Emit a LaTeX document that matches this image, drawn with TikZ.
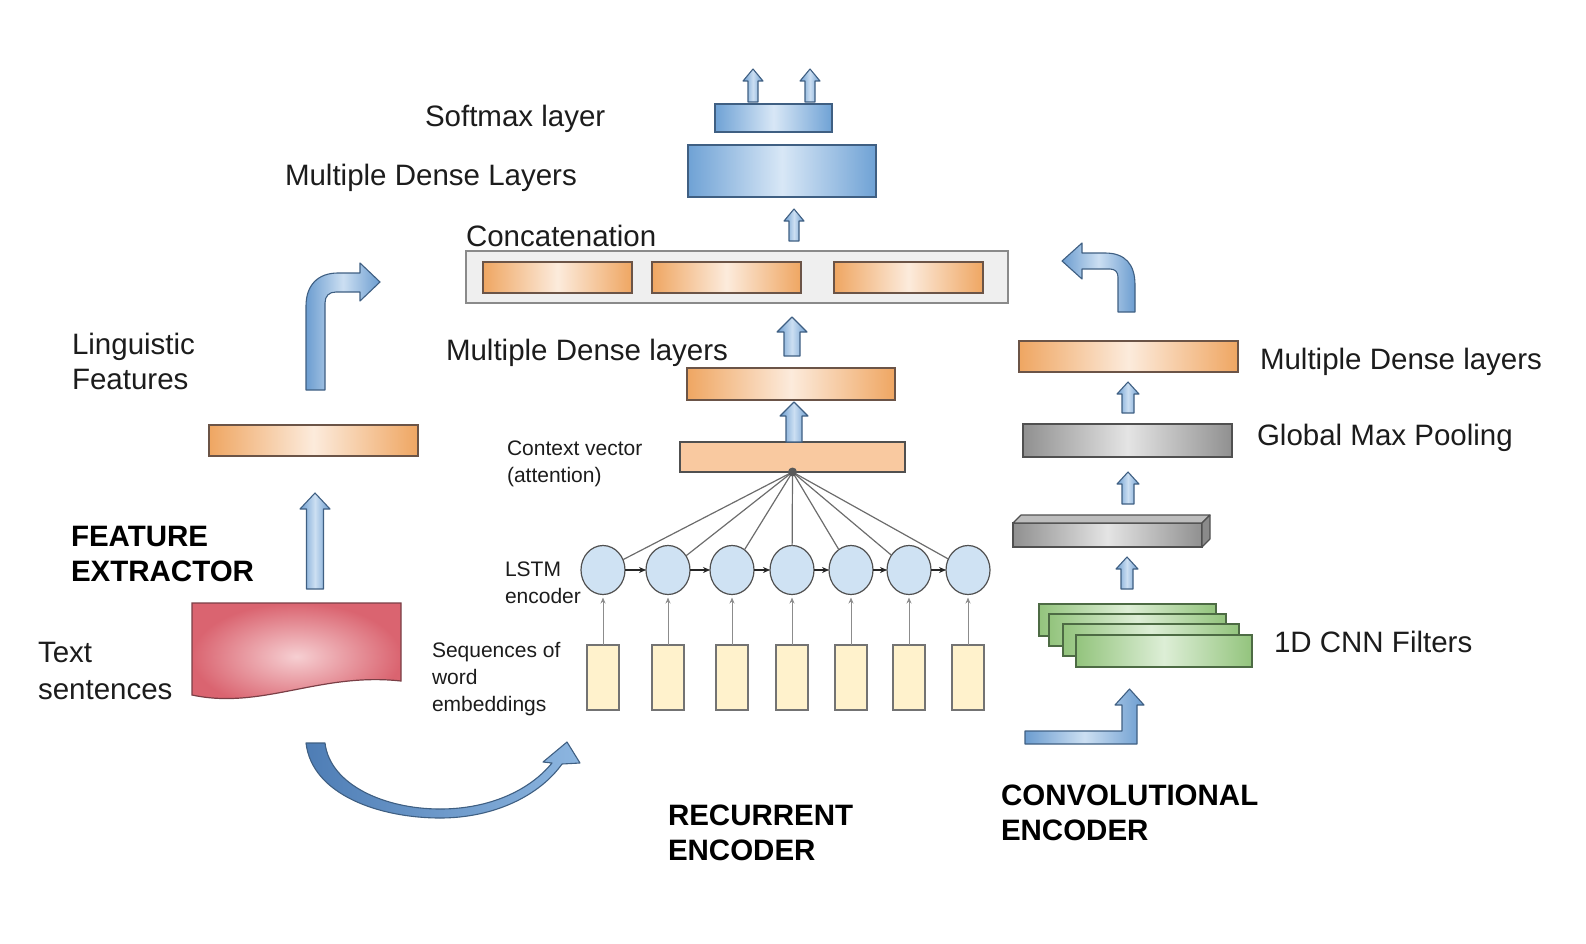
\documentclass[tikz,border=0pt]{standalone}
\usepackage{fontspec}
\setmainfont{Liberation Sans}
\usetikzlibrary{arrows.meta,shapes.geometric,calc}
\definecolor{bOut}{HTML}{6FA2D5}
\definecolor{bIn}{HTML}{D8E7F6}
\definecolor{bBd}{HTML}{3F5F82}
\definecolor{oOut}{HTML}{EFA662}
\definecolor{oIn}{HTML}{FCEBDC}
\definecolor{oBd}{HTML}{6B5447}
\definecolor{gOut}{HTML}{909090}
\definecolor{gIn}{HTML}{E4E4E4}
\definecolor{gBd}{HTML}{505050}
\definecolor{gTop}{HTML}{BDBDBD}
\definecolor{gSide}{HTML}{8A8A8A}
\definecolor{grOut}{HTML}{93C47D}
\definecolor{grIn}{HTML}{DDEED6}
\definecolor{grBd}{HTML}{4D6B44}
\definecolor{rOut}{HTML}{DA6470}
\definecolor{rIn}{HTML}{F6CFD2}
\definecolor{rBd}{HTML}{7A3F46}
\definecolor{aOut}{HTML}{6C9DD0}
\definecolor{aIn}{HTML}{CCDFF2}
\definecolor{aDark}{HTML}{4E7DB5}
\definecolor{aLight}{HTML}{8DB6E0}
\definecolor{ctxFill}{HTML}{F9C9A0}
\definecolor{lstmFill}{HTML}{CFE2F3}
\definecolor{embFill}{HTML}{FFF2CC}
\definecolor{txt}{HTML}{1C1C1C}
\definecolor{catFill}{HTML}{EFEFEF}
\definecolor{catBd}{HTML}{8A8A8A}

% block arrow pointing up: from, to, shaft half width, head half width, head length
\newcommand{\blockup}[5]{%
  \path[barrow] let \p1=(#1), \p2=(#2) in
   (\x1-#3pt,\y1) -- (\x1-#3pt,\y2-#5pt) -- (\x1-#4pt,\y2-#5pt) -- (\x1,\y2)
   -- (\x1+#4pt,\y2-#5pt) -- (\x1+#3pt,\y2-#5pt) -- (\x1+#3pt,\y1) -- cycle;}

\begin{document}
\begin{tikzpicture}[x=1pt,y=-1pt,
  every node/.style={inner sep=0pt, outer sep=0pt},
  lab/.style={font=\fontsize{29.5}{35.5}\selectfont, text=txt, align=left, anchor=north west},
  labone/.style={font=\fontsize{29.5}{35.5}\selectfont, text=txt, anchor=base west},
  blab/.style={font=\bfseries\fontsize{29.5}{35}\selectfont, text=black, align=left, anchor=north west},
  slab/.style={font=\fontsize{21}{27}\selectfont, text=txt, align=left, anchor=north west},
  bluebox/.style={draw=bBd, line width=1.2pt, left color=bOut, right color=bOut, middle color=bIn},
  orangebox/.style={draw=oBd, line width=1.2pt, left color=oOut, right color=oOut, middle color=oIn},
  graybox/.style={draw=gBd, line width=1.2pt, left color=gOut, right color=gOut, middle color=gIn},
  greenbox/.style={draw=grBd, line width=1.2pt, left color=grOut, right color=grOut, middle color=grIn},
  concatbox/.style={draw=catBd, line width=1.2pt, fill=catFill},
  ctxbox/.style={draw=gBd, line width=1.2pt, fill=ctxFill},
  lstm/.style={ellipse, draw=gBd, line width=1.2pt, fill=lstmFill, minimum width=44pt, minimum height=49pt},
  emb/.style={rectangle, draw=gBd!80, line width=1.1pt, fill=embFill, minimum width=32pt, minimum height=65pt},
  barrow/.style={draw=bBd, line width=1.1pt, line join=round, left color=aOut, right color=aOut, middle color=aIn},
  hubline/.style={draw=gray!85!black, line width=1.2pt},
  chain/.style={draw=black!85, line width=1.6pt, -{Stealth[length=7pt,width=6pt]}},
  embarrow/.style={draw=gray!90, line width=1pt, -{Stealth[length=6pt,width=5pt]}, shorten >=3pt}
]
\useasboundingbox (0,0) rectangle (1586,944);

% ---------- top: softmax and dense ----------
\node[bluebox, minimum width=117pt, minimum height=28pt] (softmax) at (773.5,118) {};
\node[bluebox, minimum width=188pt, minimum height=52pt] (dense) at (782,171) {};
\node[labone] (tsoft) at (425,126.5) {Softmax layer};
\node[labone] (tdense) at (285,185.5) {Multiple Dense Layers};

\coordinate (a1b) at (753,102); \coordinate (a1t) at (753,69);
\coordinate (a2b) at (810,102); \coordinate (a2t) at (810,69);
\blockup{a1b}{a1t}{5}{10}{12}
\blockup{a2b}{a2t}{5}{10}{12}

% ---------- concatenation ----------
\node[concatbox, minimum width=542pt, minimum height=52pt] (concat) at (737,277) {};
\node[orangebox, minimum width=149pt, minimum height=31pt] (o1) at (557.5,277.5) {};
\node[orangebox, minimum width=149pt, minimum height=31pt] (o2) at (726.5,277.5) {};
\node[orangebox, minimum width=149pt, minimum height=31pt] (o3) at (908.5,277.5) {};
\node[labone] (tconcat) at (466,246.5) {Concatenation};
\coordinate (a3b) at (794,241); \coordinate (a3t) at (794,209);
\blockup{a3b}{a3t}{5}{10}{12}

% ---------- recurrent encoder ----------
\node[orangebox, minimum width=208pt, minimum height=32pt] (mid) at (791,384) {};
\node[labone] (tmid) at (446,360.5) {Multiple Dense layers};
\coordinate (a4b) at (792,356); \coordinate (a4t) at (792,317);
\blockup{a4b}{a4t}{8}{15}{15}

\node[ctxbox, minimum width=225pt, minimum height=30pt] (ctx) at (792.5,457) {};
\coordinate (a5b) at (794,442); \coordinate (a5t) at (794,402);
\blockup{a5b}{a5t}{8}{14}{14}
\node[slab] (tctx) at (507,440.5) {Context vector\\(attention)};

\coordinate (hub) at (792.5,472);
\foreach \i/\xx in {1/603,2/668,3/732,4/792,5/851,6/909,7/968}{
  \node[lstm] (c\i) at (\xx,570) {};
  \node[emb] (e\i) at (\xx,677.5) {};
}
\foreach \i in {1,...,7}{
  \draw[hubline] (hub) -- (c\i);
  \draw[embarrow] (e\i) -- (c\i);
}
\foreach \i/\j in {1/2,2/3,3/4,4/5,5/6,6/7}{
  \draw[chain] (c\i) -- (c\j);
}
\fill[gray!70!black] (hub) circle (4.5pt);
\node[slab] (tlstm) at (505,562) {LSTM\\encoder};
\node[slab] (tseq) at (432,642) {Sequences of\\word\\embeddings};
\node[blab] (trec) at (668,805) {RECURRENT\\ENCODER};

% ---------- feature extractor ----------
\node[orangebox, minimum width=209pt, minimum height=31pt] (feat) at (313.5,440.5) {};
\node[lab] (tling) at (72,333) {Linguistic\\Features};
\node[blab] (tfeat) at (71,526) {FEATURE\\EXTRACTOR};
\node[lab, font=\fontsize{29.5}{37}\selectfont] (ttext) at (38,642) {Text\\sentences};
\coordinate (a6b) at (315,589); \coordinate (a6t) at (315,493);
\blockup{a6b}{a6t}{8.5}{15}{16}

% document shape
\draw[draw=rBd, line width=1.2pt, inner color=rIn, outer color=rOut]
  (192,603) -- (401,603) -- (401,681) .. controls (320,672) and (262,710) .. (192,695) -- cycle;
\coordinate (doc) at (296,640);

% bent arrow up-right
\path[barrow] (306,390) -- (306,306) .. controls (306,285) and (318,273) .. (338,273)
  -- (360,273) -- (360,263) -- (380,282) -- (360,301) -- (360,292) -- (336,292)
  .. controls (329,292) and (325,296) .. (325,303) -- (325,390) -- cycle;

% curved arrow to the recurrent encoder
\path[draw=bBd, line width=1.1pt, line join=round, left color=aDark, right color=aLight]
  (306,743) .. controls (312,795) and (380,818) .. (440,818)
  .. controls (495,818) and (540,795) .. (562,764)
  -- (580,763) -- (567,742) -- (543,762) -- (552,763)
  .. controls (530,790) and (490,809) .. (440,809)
  .. controls (385,809) and (330,785) .. (325,743) -- cycle;

% ---------- convolutional encoder ----------
\path[barrow] (1135,312) -- (1135,285) .. controls (1135,264) and (1125,253) .. (1105,253)
  -- (1082,253) -- (1082,243) -- (1062,261) -- (1082,279) -- (1082,269) -- (1110,269)
  .. controls (1115,269) and (1118,272) .. (1118,277) -- (1118,312) -- cycle;

\node[orangebox, minimum width=219pt, minimum height=31pt] (rdense) at (1128.5,356.5) {};
\node[labone] (trdense) at (1260,369.5) {Multiple Dense layers};
\coordinate (a7b) at (1128,413); \coordinate (a7t) at (1128,382);
\blockup{a7b}{a7t}{6}{11}{12}

\node[graybox, minimum width=209pt, minimum height=33pt] (gmp) at (1127.5,440.5) {};
\node[labone] (tgmp) at (1257,445.5) {Global Max Pooling};
\coordinate (a8b) at (1128,504); \coordinate (a8t) at (1128,472);
\blockup{a8b}{a8t}{6}{11}{12}

\node[graybox, minimum width=189pt, minimum height=24pt] (conv) at (1107.5,535) {};
\draw[draw=gBd, line width=1.1pt, line join=round, fill=gTop]
  (conv.north west) -- ($(conv.north west)+(8,-8)$) -- ($(conv.north east)+(8,-8)$) -- (conv.north east) -- cycle;
\draw[draw=gBd, line width=1.1pt, line join=round, fill=gSide]
  (conv.north east) -- ($(conv.north east)+(8,-8)$) -- ($(conv.south east)+(8,-8)$) -- (conv.south east) -- cycle;
\coordinate (a9b) at (1127,589); \coordinate (a9t) at (1127,557);
\blockup{a9b}{a9t}{6}{11}{12}

\node[greenbox, minimum width=177pt, minimum height=32pt] (f1) at (1127.5,620) {};
\node[greenbox, minimum width=177pt, minimum height=32pt] (f2) at (1137.5,630) {};
\node[greenbox, minimum width=176pt, minimum height=32pt] (f3) at (1151,640) {};
\node[greenbox, minimum width=176pt, minimum height=32pt] (f4) at (1164,651) {};
\node[labone] (tcnn) at (1274,652.5) {1D CNN Filters};

% L-shaped arrow
\path[barrow] (1025,731) -- (1122,731) -- (1122,705) -- (1115,705) -- (1129.5,689)
  -- (1144,705) -- (1137,705) -- (1137,744) -- (1025,744) -- cycle;

\node[blab] (tconv) at (1001,785) {CONVOLUTIONAL\\ENCODER};
\end{tikzpicture}
\end{document}
